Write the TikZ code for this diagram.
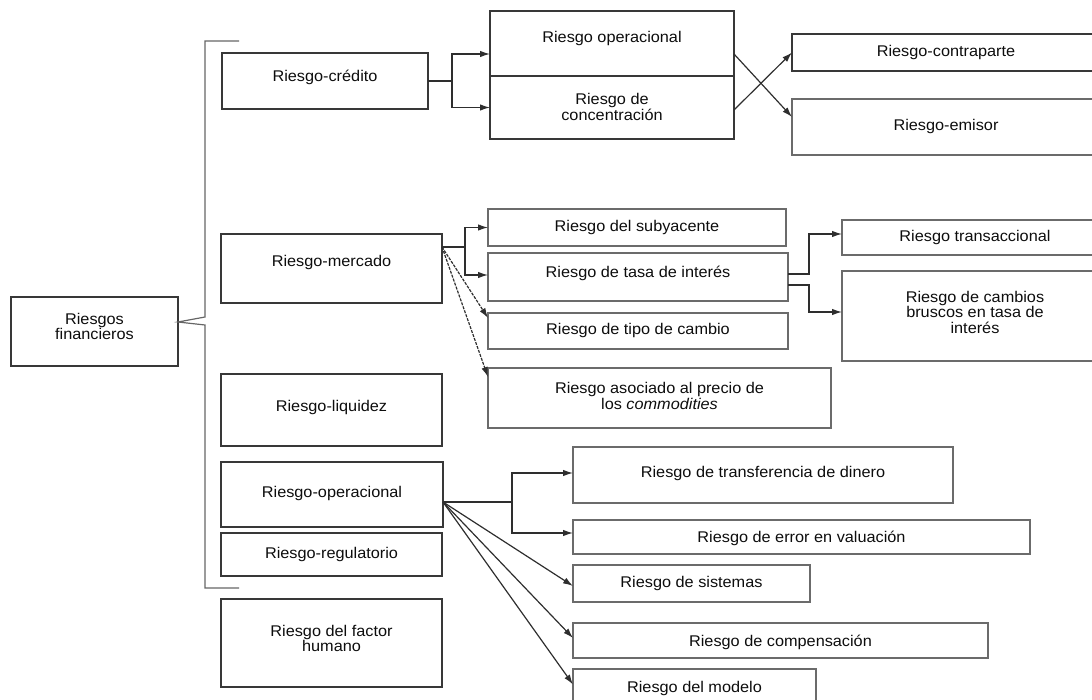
\documentclass[tikz,border=0pt]{standalone}
\usepackage{fontspec}
\setmainfont{Liberation Sans}[FakeStretch=1.05]
\usetikzlibrary{arrows.meta,calc}

\tikzset{
  boxst/.style={draw=black!78, line width=1.4pt, rectangle, inner sep=0pt, outer sep=0pt},
  lightbox/.style={boxst, draw=black!58},
  txtst/.style={text=black!95, align=center, inner sep=0pt, font=\fontsize{15.5}{15.5}\selectfont},
  link/.style={draw=black!82, line width=1.2pt},
  arr/.style={link, -{Latex[length=10pt,width=6.5pt]}},
  dasharr/.style={arr, dash pattern=on 3pt off 1.2pt},
}

% \rbox[style]{name}{x1}{y1}{x2}{y2}{text y}{text}
\newcommand\rbox[8][boxst]{%
  \node[#1, minimum width={(#5-#3)*1pt}, minimum height={(#6-#4)*1pt}]
    (#2) at ({(#3+#5)/2},{(#4+#6)/2}) {};
  \node[txtst] (#2-t) at ({(#3+#5)/2},#7) {#8};
}

\begin{document}
\begin{tikzpicture}[x=1pt,y=-1pt]
\useasboundingbox (0,0) rectangle (1092,700);
\clip (0,0) rectangle (1092,700);

% root
\rbox{fin}{11}{297}{178}{366}{326.5}{Riesgos\\financieros}

% first level
\rbox{cred}{222}{53}{428}{109}{77}{Riesgo-crédito}
\rbox{merc}{221}{234}{442}{303}{262}{Riesgo-mercado}
\rbox{liq}{221}{374}{442}{446}{407}{Riesgo-liquidez}
\rbox{oper}{221}{462}{443}{527}{493}{Riesgo-operacional}
\rbox{regu}{221}{533}{442}{576}{554}{Riesgo-regulatorio}
\rbox{hum}{221}{599}{442}{687}{638.5}{Riesgo del factor\\humano}

% credit branch
\rbox{opc}{490}{11}{734}{76}{38}{Riesgo operacional}
\rbox{conc}{490}{76}{734}{139}{107}{Riesgo de\\concentración}
\rbox{contra}{792}{34}{1100}{71}{52}{Riesgo-contraparte}
\rbox[lightbox]{emisor}{792}{99}{1100}{155}{126}{Riesgo-emisor}

% market branch
\rbox[lightbox]{suby}{488}{209}{786}{246}{227}{Riesgo del subyacente}
\rbox[lightbox]{tasa}{488}{253}{788}{301}{273}{Riesgo de tasa de interés}
\rbox[lightbox]{tipo}{488}{313}{788}{349}{330}{Riesgo de tipo de cambio}
\rbox[lightbox]{comm}{488}{368}{831}{428}{396}{Riesgo asociado al precio de\\los \textit{commodities}}
\rbox[lightbox]{trans}{842}{220}{1108}{255}{237}{Riesgo transaccional}
\rbox[lightbox]{brus}{842}{271}{1108}{361}{312}{Riesgo de cambios\\bruscos en tasa de\\interés}

% operational branch
\rbox[lightbox]{transf}{573}{447}{953}{503}{473}{Riesgo de transferencia de dinero}
\rbox[lightbox]{err}{573}{520}{1030}{554}{538}{Riesgo de error en valuación}
\rbox[lightbox]{sist}{573}{565}{810}{602}{583}{Riesgo de sistemas}
\rbox[lightbox]{comp}{573}{623}{988}{658}{642}{Riesgo de compensación}
\rbox[lightbox]{mod}{573}{669}{816}{712}{688}{Riesgo del modelo}

% bracket grouping the first level
\draw[link, draw=black!60] (239,41) -- (205,41) -- (205,317)
  -- ([yshift=9.5pt]fin.east) -- (205,325) -- (205,588) -- (239,588);

% credit connectors
\draw[arr] (cred.east) -- ++(24,0) coordinate (cj) |- ([yshift=-10.5pt]opc.west);
\draw[arr] (cj) |- (conc.west);
\draw[arr] ([yshift=-10.5pt]opc.east) -- ([yshift=10pt]emisor.west);
\draw[arr] ([yshift=-2.5pt]conc.east) -- (contra.west);

% market connectors
\draw[arr] ([yshift=21.5pt]merc.east) coordinate (mo) -- ++(23,0) coordinate (mj) |- (suby.west);
\draw[arr] (mj) |- ([yshift=2pt]tasa.west);
\draw[dasharr] (mo) -- ([yshift=13pt]tipo.west);
\draw[dasharr] (mo) -- ([yshift=21pt]comm.west);
\draw[arr] ([yshift=3pt]tasa.east) -- ++(21,0) |- ([yshift=3.5pt]trans.west);
\draw[arr] ([yshift=-8pt]tasa.east) -- ++(21,0) |- ([yshift=4pt]brus.west);

% operational connectors
\draw[arr] ([yshift=-7.5pt]oper.east) coordinate (oo) -- ++(69,0) coordinate (oj) |- ([yshift=2pt]transf.west);
\draw[arr] (oj) |- ([yshift=4pt]err.west);
\draw[arr] (oo) -- ([yshift=-2.5pt]sist.west);
\draw[arr] (oo) -- ([yshift=2.5pt]comp.west);
\draw[arr] (oo) -- ([yshift=6pt]mod.west);
\end{tikzpicture}
\end{document}
